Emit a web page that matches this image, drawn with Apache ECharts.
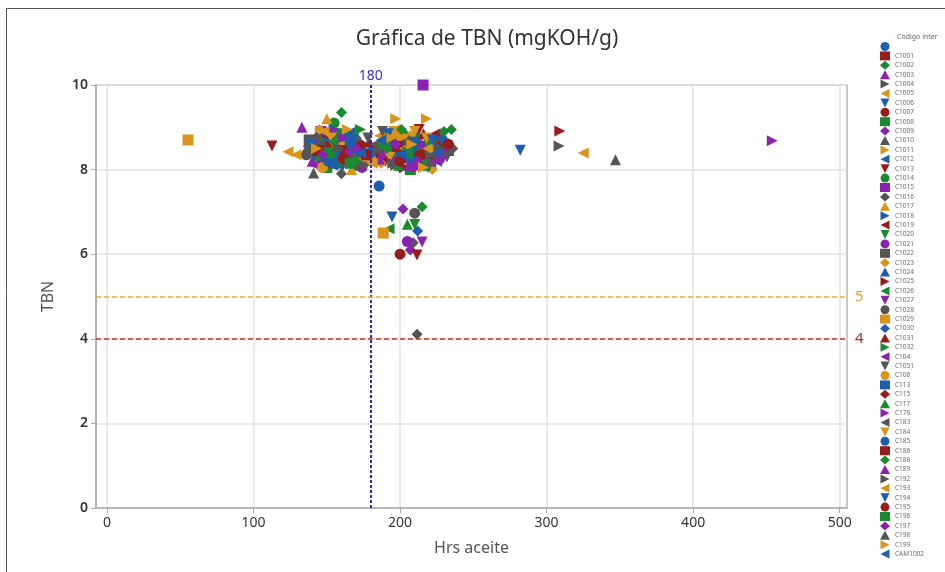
<!DOCTYPE html>
<html>
<head>
<meta charset="utf-8">
<title>Gráfica de TBN</title>
<script src="https://cdn.jsdelivr.net/npm/echarts@6/dist/echarts.min.js"></script>
<style>
  html, body { margin: 0; padding: 0; background: #fff; }
  #chart { width: 945px; height: 572px; }
</style>
</head>
<body>
<div id="chart"></div>
<script>
// Equipment codes (first entry is the record with no code)
const codes = [' ', 'C1001', 'C1002', 'C1003', 'C1004', 'C1005', 'C1006', 'C1007', 'C1008', 'C1009',
  'C1010', 'C1011', 'C1012', 'C1013', 'C1014', 'C1015', 'C1016', 'C1017', 'C1018', 'C1019',
  'C1020', 'C1021', 'C1022', 'C1023', 'C1024', 'C1025', 'C1026', 'C1027', 'C1028', 'C1029',
  'C1030', 'C1031', 'C1032', 'C104', 'C1051', 'C106', 'C113', 'C115', 'C117', 'C178',
  'C183', 'C184', 'C185', 'C186', 'C188', 'C189', 'C192', 'C193', 'C194', 'C195',
  'C196', 'C197', 'C198', 'C199', 'CAM1002'];

// [Hrs aceite, TBN] samples per code
const pts_blank = [[185.7, 7.61], [170, 8.4], [205, 8.55], [152, 8.3], [226, 8.7]];
const pts_C1001 = [[168, 8.25], [200, 8.3], [212, 8.15], [147, 8.6], [190, 8.75]];
const pts_C1002 = [[160, 9.35], [150, 8.45], [203, 8.85], [222, 8.5], [235, 8.95], [215, 7.12]];
const pts_C1003 = [[133, 9.0], [148, 8.3], [209, 8.2], [195, 8.65], [228, 8.4]];
const pts_C1004 = [[308.5, 8.56], [139, 8.45], [176, 8.6], [213, 8.8], [197, 8.1]];
const pts_C1005 = [[325, 8.39], [123.5, 8.42], [156, 8.5], [206, 8.35], [186, 8.8]];
const pts_C1006 = [[282, 8.46], [194.5, 6.88], [162, 8.7], [211, 8.6], [145, 8.2]];
const pts_C1007 = [[200, 6.0], [165, 8.55], [198, 8.45], [220, 8.3], [153, 8.15]];
const pts_C1008 = [[150, 8.05], [172, 8.1], [207, 8.0], [230, 8.6], [158, 8.85]];
const pts_C1009 = [[202, 7.07], [207, 6.1], [143, 8.65], [200, 8.05], [218, 8.35], [170, 8.75]];
const pts_C1010 = [[347, 8.23], [141, 7.92], [188, 8.45], [219, 8.65], [163, 8.35]];
const pts_C1011 = [[197, 9.2], [218, 9.2], [152, 8.3], [173, 8.25], [204, 8.7]];
const pts_C1012 = [[137, 8.55], [181, 8.5], [210, 8.45], [167, 8.9], [225, 8.2]];
const pts_C1013 = [[112.6, 8.56], [211.5, 5.98], [161, 8.1], [213, 8.95], [190, 8.2]];
const pts_C1014 = [[155, 9.1], [148, 8.75], [205, 8.6], [231, 8.45], [170, 8.3]];
const pts_C1015 = [[215.7, 10.0], [157, 8.4], [196, 8.35], [221, 8.1], [146, 8.9]];
const pts_C1016 = [[211.6, 4.11], [209, 6.27], [160, 7.9], [236, 8.5], [183, 8.4], [144, 8.8]];
const pts_C1017 = [[150, 9.2], [141, 8.25], [167, 8.0], [199, 8.95], [215, 8.4]];
const pts_C1018 = [[163, 8.6], [155, 8.95], [193, 8.55], [217, 8.25], [175, 8.35]];
const pts_C1019 = [[171, 8.5], [148, 8.15], [205, 8.2], [224, 8.85], [183, 8.3]];
const pts_C1020 = [[165, 8.35], [140, 8.4], [212, 8.7], [196, 8.4], [210, 6.7]];
const pts_C1021 = [[205, 6.3], [153, 8.6], [200, 8.5], [227, 8.25], [174, 8.05]];
const pts_C1022 = [[138, 8.7], [159, 8.2], [214, 8.55], [192, 8.65], [233, 8.45]];
const pts_C1023 = [[145, 8.95], [169, 8.65], [207, 8.8], [187, 8.15], [222, 8.0]];
const pts_C1024 = [[158, 8.15], [176, 8.45], [209, 8.35], [198, 8.75], [143, 8.35]];
const pts_C1025 = [[309, 8.91], [161, 8.45], [203, 8.05], [217, 8.55], [151, 8.7]];
const pts_C1026 = [[192.5, 6.6], [168, 8.8], [186, 8.55], [211, 8.3], [147, 8.45]];
const pts_C1027 = [[215, 6.29], [177, 8.2], [219, 8.05], [154, 8.85], [201, 8.6]];
const pts_C1028 = [[210, 6.97], [136, 8.35], [172, 8.6], [208, 8.5], [225, 8.6]];
const pts_C1029 = [[55.3, 8.7], [188.5, 6.5], [152, 8.55], [196, 8.9], [214, 8.2]];
const pts_C1030 = [[212, 6.55], [164, 8.25], [149, 8.65], [202, 8.4], [229, 8.75]];
const pts_C1031 = [[157, 8.3], [179, 8.65], [208, 8.15], [190, 8.6], [216, 8.85]];
const pts_C1032 = [[146, 8.3], [162, 8.55], [199, 8.25], [220, 8.6], [173, 8.95]];
const pts_C104 = [[166, 8.45], [142, 8.1], [206, 8.45], [194, 8.2], [229, 8.5]];
const pts_C1051 = [[154, 8.4], [178, 8.75], [213, 8.35], [188, 8.9], [232, 8.3]];
const pts_C106 = [[159, 8.6], [147, 8.05], [201, 8.75], [223, 8.45], [180, 8.25]];
const pts_C113 = [[171, 8.35], [139, 8.6], [209, 8.65], [195, 8.5], [163, 8.8]];
const pts_C115 = [[150, 8.55], [169, 8.15], [204, 8.3], [226, 8.55], [187, 8.45]];
const pts_C117 = [[205, 6.71], [156, 8.2], [175, 8.5], [216, 8.45], [199, 8.1]];
const pts_C178 = [[454, 8.68], [161, 8.75], [212, 8.05], [190, 8.35], [148, 8.5]];
const pts_C183 = [[145, 8.6], [167, 8.3], [203, 8.65], [221, 8.35], [183, 8.6]];
const pts_C184 = [[153, 8.75], [174, 8.15], [210, 8.9], [193, 8.3], [218, 8.75]];
const pts_C185 = [[166, 8.6], [151, 8.2], [207, 8.25], [224, 8.5], [180, 8.4]];
const pts_C186 = [[160, 8.45], [177, 8.35], [198, 8.55], [213, 8.45], [144, 8.45]];
const pts_C188 = [[155, 8.65], [170, 8.2], [201, 8.95], [230, 8.9], [191, 8.5]];
const pts_C189 = [[140, 8.2], [164, 8.4], [215, 8.6], [186, 8.25], [206, 8.1]];
const pts_C192 = [[158, 8.5], [176, 8.1], [211, 8.5], [195, 8.15], [227, 8.5]];
const pts_C193 = [[129, 8.35], [148, 8.9], [203, 8.5], [219, 8.5], [181, 8.15]];
const pts_C194 = [[168, 8.7], [156, 8.3], [209, 8.45], [192, 8.85], [222, 8.7]];
const pts_C195 = [[162, 8.25], [173, 8.55], [214, 8.3], [200, 8.2], [233, 8.6]];
const pts_C196 = [[152, 8.4], [166, 8.15], [205, 8.4], [189, 8.6], [217, 8.1]];
const pts_C197 = [[147, 8.35], [170, 8.5], [212, 8.2], [197, 8.6], [228, 8.3]];
const pts_C198 = [[157, 8.55], [137, 8.55], [206, 8.7], [184, 8.5], [220, 8.2]];
const pts_C199 = [[164, 8.95], [143, 8.5], [208, 8.6], [194, 8.75], [216, 8.05]];
const pts_CAM1002 = [[173, 8.4], [154, 8.1], [201, 8.35], [225, 8.4], [187, 8.7]];

// Reference limits
const refHours = 180;
const refWarn = 5;
const refCrit = 4;

// Axis ticks
const xTicks = [0, 100, 200, 300, 400, 500];
const yTicks = [0, 2, 4, 6, 8, 10];

const allPoints = [pts_blank, pts_C1001, pts_C1002, pts_C1003, pts_C1004, pts_C1005, pts_C1006,
  pts_C1007, pts_C1008, pts_C1009, pts_C1010, pts_C1011, pts_C1012, pts_C1013, pts_C1014,
  pts_C1015, pts_C1016, pts_C1017, pts_C1018, pts_C1019, pts_C1020, pts_C1021, pts_C1022,
  pts_C1023, pts_C1024, pts_C1025, pts_C1026, pts_C1027, pts_C1028, pts_C1029, pts_C1030,
  pts_C1031, pts_C1032, pts_C104, pts_C1051, pts_C106, pts_C113, pts_C115, pts_C117,
  pts_C178, pts_C183, pts_C184, pts_C185, pts_C186, pts_C188, pts_C189, pts_C192, pts_C193,
  pts_C194, pts_C195, pts_C196, pts_C197, pts_C198, pts_C199, pts_CAM1002];

// Marker styles cycle independently: 6 colours x 7 shapes
const palette = ['#1d5eae', '#971c1c', '#1a8a30', '#8a24b0', '#555555', '#d9951b'];
const shapes = [
  'circle', 'rect', 'diamond', 'triangle',
  'path://M0,0 L10,5 L0,10 Z',   // right
  'path://M10,0 L0,5 L10,10 Z',  // left
  'path://M0,0 L10,0 L5,10 Z'    // down
];

const FONT = 'Noto Sans';

const series = codes.map((code, i) => ({
  name: code,
  type: 'scatter',
  data: allPoints[i],
  symbol: shapes[i % shapes.length],
  symbolSize: 11,
  itemStyle: { color: palette[i % palette.length], opacity: 1 },
  z: 3
}));

// Limit lines carried by the first series
series[0].markLine = {
  silent: true,
  symbol: 'none',
  animation: false,
  data: [
    {
      xAxis: refHours,
      lineStyle: { color: '#2b2bb3', type: [3, 2], width: 2 },
      label: { show: true, position: 'end', formatter: String(refHours), color: '#3535c4', fontSize: 14, fontFamily: FONT, distance: 2 }
    },
    {
      yAxis: refWarn,
      lineStyle: { color: '#f0aa35', type: [5, 3], width: 1.6 },
      label: { show: true, position: 'end', formatter: String(refWarn), color: '#e0a03c', fontSize: 15, fontFamily: FONT, distance: 8 }
    },
    {
      yAxis: refCrit,
      lineStyle: { color: '#c8302c', type: [5, 3], width: 1.6 },
      label: { show: true, position: 'end', formatter: String(refCrit), color: '#a5302c', fontSize: 15, fontFamily: FONT, distance: 8 }
    }
  ]
};

const chart = echarts.init(document.getElementById('chart'), null, { renderer: 'canvas' });

chart.setOption({
  animation: false,
  backgroundColor: '#ffffff',
  title: {
    text: 'Gráfica de TBN (mgKOH/g)',
    left: 482,
    textAlign: 'center',
    top: 24,
    textStyle: { fontFamily: FONT, fontSize: 21, fontWeight: 'normal', color: '#333333' }
  },
  grid: {
    left: 96, right: 98, top: 85, bottom: 64,
    show: true, borderColor: '#b5b5b5', borderWidth: 1.5
  },
  legend: {
    orient: 'vertical',
    left: 880,
    top: 42,
    padding: 0,
    itemWidth: 10,
    itemHeight: 9,
    itemGap: 0.4,
    selectedMode: false,
    data: codes,
    textStyle: { fontFamily: FONT, fontSize: 6.5, color: '#6a6a6a', padding: [0, 0, 0, 0] }
  },
  graphic: [
    {
      type: 'rect',
      silent: true,
      shape: { x: 6.5, y: 8.5, width: 1000, height: 700 },
      style: { fill: 'none', stroke: '#555555', lineWidth: 1 }
    },
    {
      type: 'text',
      silent: true,
      left: 897,
      top: 33,
      style: { text: 'Codigo inter', fontFamily: FONT, fontSize: 7, fill: '#6a6a6a' }
    }
  ],
  xAxis: {
    type: 'value',
    min: -7.5,
    max: 505,
    splitNumber: 5,
    name: 'Hrs aceite',
    nameLocation: 'middle',
    nameGap: 32,
    nameTextStyle: { fontFamily: FONT, fontSize: 16, color: '#555555' },
    axisLine: { show: true, onZero: false, lineStyle: { color: '#aaaaaa', width: 1.5 } },
    axisTick: { show: true, length: 5, lineStyle: { color: '#aaaaaa' }, customValues: xTicks },
    axisLabel: { fontFamily: FONT, fontSize: 14, color: '#333333', margin: 8, customValues: xTicks },
    splitLine: { show: true, lineStyle: { color: '#e3e3e3', width: 1.5 } }
  },
  yAxis: {
    type: 'value',
    min: 0,
    max: 10,
    interval: 2,
    name: 'TBN',
    nameLocation: 'middle',
    nameGap: 40,
    nameTextStyle: { fontFamily: FONT, fontSize: 16, color: '#555555' },
    axisLine: { show: true, onZero: false, lineStyle: { color: '#aaaaaa', width: 1.5 } },
    axisTick: { show: true, length: 5, lineStyle: { color: '#aaaaaa' } },
    axisLabel: { fontFamily: FONT, fontSize: 14, color: '#333333', fontWeight: 600, margin: 8, customValues: yTicks },
    splitLine: { show: true, lineStyle: { color: '#e3e3e3', width: 1.5 } }
  },
  series: series
});
</script>
</body>
</html>
